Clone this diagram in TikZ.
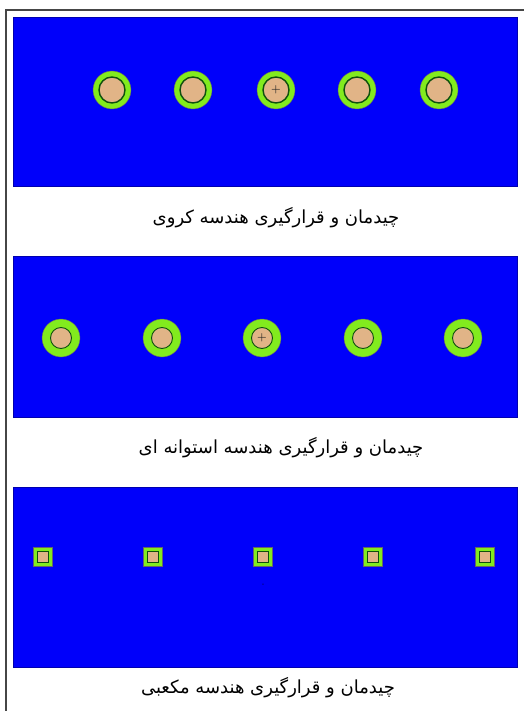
\documentclass[tikz,border=0pt]{standalone}
\usepackage{fontspec}
\newfontfamily\arabicfont[Script=Arabic]{DejaVu Sans}
\TeXXeTstate=1
\usetikzlibrary{positioning}
\definecolor{bgblue}{RGB}{0,0,250}
\definecolor{shellcol}{RGB}{130,235,30}
\definecolor{corecol}{RGB}{225,180,135}
\definecolor{ringcol}{RGB}{15,80,15}
\definecolor{framecol}{RGB}{70,70,70}

\begin{document}
\begin{tikzpicture}[
  x=1pt, y=-1pt,
  panel/.style={fill=bgblue, draw=bgblue!70!black, line width=0.6pt},
  shell/.style={circle, fill=shellcol, draw=black!60, line width=0.4pt,
                minimum size=38pt, inner sep=0pt},
  core/.style={circle, fill=corecol, draw=ringcol, inner sep=0pt},
  shellbox/.style={rectangle, fill=shellcol, draw=black!60, line width=0.4pt,
                   minimum size=19pt, inner sep=0pt},
  corebox/.style={rectangle, fill=corecol, draw=ringcol, line width=1.8pt,
                  minimum size=11pt, inner sep=0pt},
  caption/.style={font=\arabicfont\fontsize{18}{20}\selectfont, inner sep=0pt},
  centremark/.style={font=\bfseries\fontsize{11}{11}\selectfont, inner sep=0pt,
                     text=black!85},
]
\useasboundingbox (0,0) rectangle (524,711);
\fill[white] (0,0) rectangle (524,711);

% --- Frame ---
\draw[framecol, line width=2pt] (6,711) -- (6,10) -- (524,10);

% --- Spherical packing ---
\draw[panel] (13,17) rectangle (517,186);
\foreach \i/\x in {1/112, 2/193, 3/276, 4/357, 5/439} {
  \node[shell] (sph\i) at (\x,90) {};
  \node[core, minimum size=26pt, line width=1.4pt] (sphc\i) at (sph\i) {};
}
\node[centremark] (sphm) at (sph3) {+};
\node[caption] (cap1) at (276,218) {\beginR چیدمان و قرارگیری هندسه کروی\endR};

% --- Cylindrical packing ---
\draw[panel] (13,256) rectangle (517,417);
\foreach \i/\x in {1/61, 2/162, 3/262, 4/363, 5/463} {
  \node[shell] (cyl\i) at (\x,338) {};
  \node[core, minimum size=21pt, line width=0.9pt] (cylc\i) at (cyl\i) {};
}
\node[centremark] (cylm) at (cyl3) {+};
\node[caption] (cap2) at (281,448) {\beginR چیدمان و قرارگیری هندسه استوانه ای\endR};

% --- Cubic packing ---
\draw[panel] (13,487) rectangle (517,667);
\foreach \i/\x in {1/43, 2/153, 3/263, 4/373, 5/485} {
  \node[shellbox] (cub\i) at (\x,557) {};
  \node[corebox] (cubc\i) at (cub\i) {};
}
\node[centremark, text=bgblue!60!black] (cubm) at (263,585) {.};
\node[caption] (cap3) at (268,688) {\beginR چیدمان و قرارگیری هندسه مکعبی\endR};

\end{tikzpicture}
\end{document}
